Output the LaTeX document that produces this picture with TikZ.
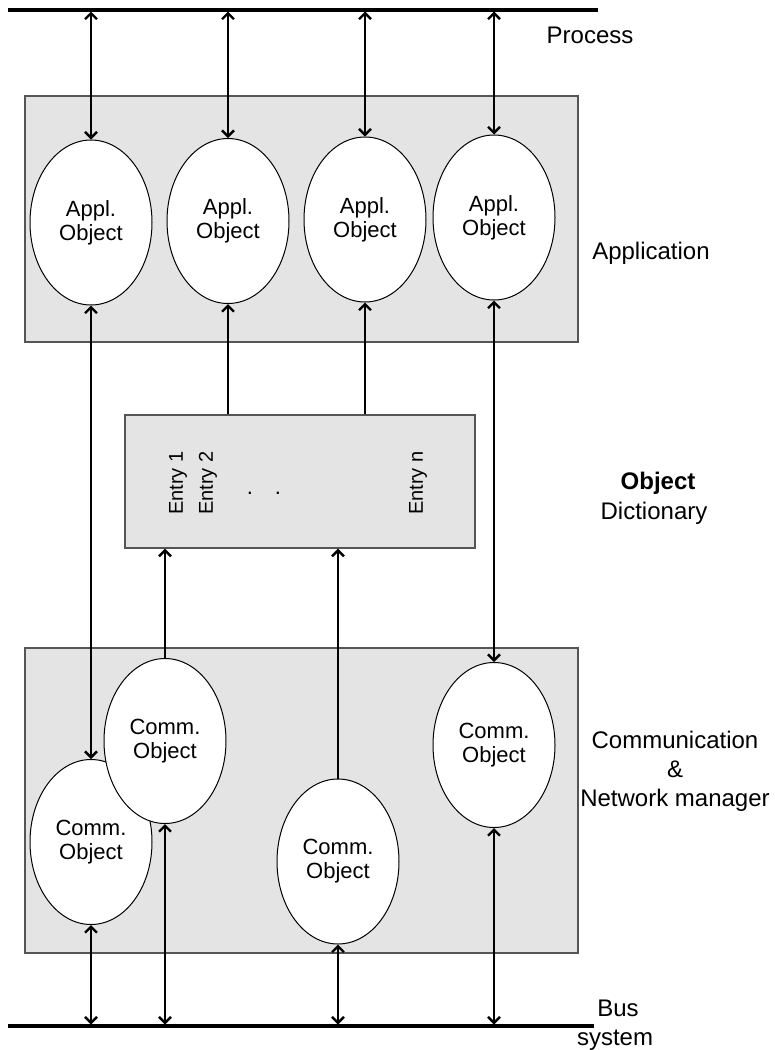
\documentclass[tikz,border=0pt]{standalone}
\usepackage{fontspec}
\setmainfont{Liberation Sans}
\usetikzlibrary{shapes.geometric,arrows.meta}
\definecolor{layerfill}{RGB}{228,228,228}
\definecolor{layeredge}{RGB}{85,85,85}

\begin{document}
\begin{tikzpicture}[x=1pt, y=-1pt, >={Straight Barb[length=6pt,width=12pt]}]
		\tikzstyle{every node}=[align=center, font=\fontsize{22}{24}\selectfont]
		\tikzstyle{label}=[font=\fontsize{24}{29}\selectfont]
		\tikzstyle{layer}=[draw=layeredge, line width=1.3pt, fill=layerfill, inner sep=0pt]
		\tikzstyle{obj}=[ellipse, draw, fill=white, line width=1pt, minimum width=122, minimum height=165, inner sep=0pt]
		\tikzstyle{entry}=[rotate=90, font=\fontsize{20}{22}\selectfont]
		\tikzstyle{link}=[line width=2.4pt]
		\tikzstyle{rail}=[line width=3.5pt]
			\useasboundingbox (0,0) rectangle (775,1050);

			\coordinate (procL) at (8,10);
			\coordinate (procR) at (598,10);
			\coordinate (busL) at (8,1026);
			\coordinate (busR) at (594,1026);
			\draw[rail] (procL) -- (procR);
			\draw[rail] (busL) -- (busR);

			\node[layer, minimum width=553, minimum height=246] (app) at (301.5,219) {};
			\node[layer, minimum width=350, minimum height=133] (dict) at (300,481.5) {};
			\node[layer, minimum width=553, minimum height=305] (comm) at (301.5,800.5) {};

			\node[obj] (a1) at (91,222.5) {Appl.\\Object};
			\node[obj] (a2) at (228,221) {Appl.\\Object};
			\node[obj] (a3) at (365,219.5) {Appl.\\Object};
			\node[obj] (a4) at (494,217.5) {Appl.\\Object};

			\node[obj] (cA) at (91,842) {Comm.\\Object};
			\node[obj] (cB) at (165,741) {Comm.\\Object};
			\node[obj] (cC) at (338,861.5) {Comm.\\Object};
			\node[obj] (cD) at (494,745) {Comm.\\Object};

			\node[entry] (entry1) at (178,483) {Entry 1};
			\node[entry] (entry2) at (208,483) {Entry 2};
			\node[entry] (entryn) at (418,483) {Entry n};
			\node (dot1) at (250,493) {.};
			\node (dot2) at (278,493) {.};

			\foreach \n in {a1,a2,a3,a4}
				\draw[link, <->, shorten <=1.5pt] (\n.north |- procL) -- (\n.north);
			\draw[link, <->] (a1.south) -- (cA.north);
			\draw[link, <->] (a4.south) -- (cD.north);
			\draw[link, ->] (a2.south |- dict.north) -- (a2.south);
			\draw[link, ->] (a3.south |- dict.north) -- (a3.south);
			\draw[link, ->] (cB.north) -- (cB.north |- dict.south);
			\draw[link, ->] (cC.north) -- (cC.north |- dict.south);
			\foreach \n in {cA,cB,cC,cD}
				\draw[link, <->, shorten >=1.5pt] (\n.south) -- (\n.south |- busL);

			\node[label] (process) at (590,35) {Process};
			\node[label] (application) at (651,253) {Application};
			\node[label, font=\fontsize{24}{29}\selectfont\bfseries] (objname) at (658,483) {Object};
			\node[label] (dictname) at (654,513) {Dictionary};
			\node[label] (commname) at (675,771) {Communication\\\&\\Network manager};
			\node[label] (busname) at (618,1008) {Bus};
			\node[label] (sysname) at (615,1040) {system};
		\end{tikzpicture}
\end{document}
